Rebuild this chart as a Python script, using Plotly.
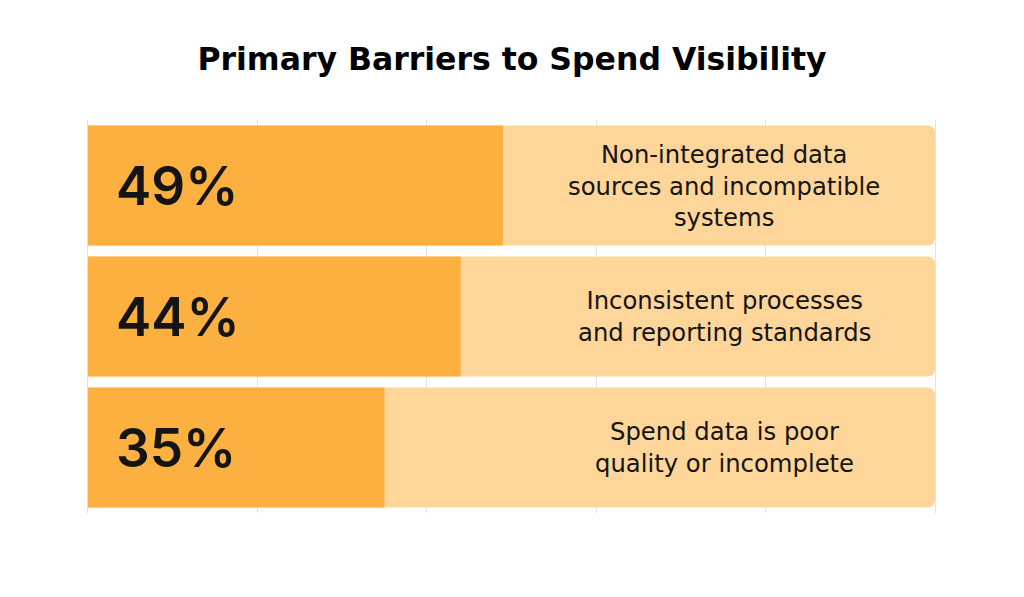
import plotly.graph_objects as go

categories = ["Non-integrated data<br>sources and incompatible<br>systems",
              "Inconsistent processes<br>and reporting standards",
              "Spend data is poor<br>quality or incomplete"]
values = [49, 44, 35]
totals = [100, 100, 100]
keys = ["a", "b", "c"]

dark = "#FBB03F"
light = "#FED699"
ink = "#141414"
num_font = "Inter, 'Open Sans', sans-serif"
txt_font = "'DejaVu Sans', sans-serif"

fig = go.Figure()
fig.add_trace(go.Bar(
    y=keys, x=totals, orientation="h",
    marker=dict(color=light, cornerradius=7, line=dict(width=0)),
    hoverinfo="skip", showlegend=False,
))
fig.add_trace(go.Bar(
    y=keys, x=values, orientation="h",
    marker=dict(color=dark, line=dict(width=0)),
    hoverinfo="skip", showlegend=False,
))

for k, v, c in zip(keys, values, categories):
    fig.add_annotation(x=3.07, y=k, xref="x", yref="y", text=f"{v}%",
                       xanchor="left", yanchor="middle", showarrow=False,
                       font=dict(family=num_font, size=53, color=ink, weight=600))
    fig.add_annotation(x=75.1, y=k, xref="x", yref="y", text=c,
                       xanchor="center", yanchor="middle", showarrow=False, align="center",
                       font=dict(family=txt_font, size=24.3, color=ink))

fig.update_layout(
    width=1008, height=581,
    margin=dict(l=80, r=81, t=112, b=76),
    paper_bgcolor="white", plot_bgcolor="white",
    barmode="overlay", bargap=0.084,
    title=dict(text="Primary Barriers to Spend Visibility", x=0.5, xanchor="center",
               y=0.913, yanchor="middle", yref="container",
               font=dict(family="'DejaVu Sans', sans-serif", size=31.5, color="#000000", weight=700)),
    xaxis=dict(range=[0, 100], dtick=20, showgrid=True, gridcolor="#E3E3E3", gridwidth=1,
               zeroline=False, showticklabels=False, ticks="", fixedrange=True),
    yaxis=dict(autorange="reversed", showgrid=False, showticklabels=False, ticks="",
               zeroline=False, fixedrange=True, showline=True, mirror=True,
               linecolor="#E3E3E3", linewidth=1),
)

fig.write_html("out.html")
